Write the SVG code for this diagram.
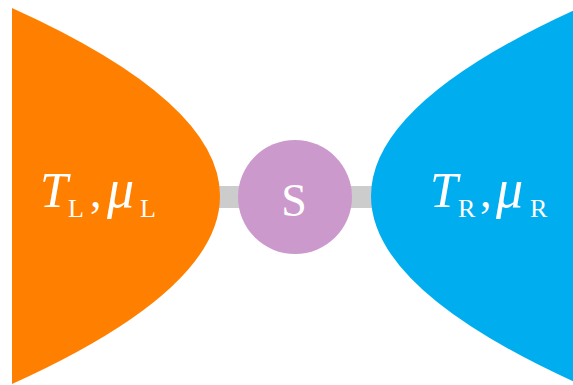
<svg xmlns="http://www.w3.org/2000/svg" width="573" height="385" viewBox="0 0 573 385">
<style>
.t{font-family:"Liberation Serif","Times New Roman",serif;fill:#fff;font-size:46px}
.i{font-style:italic;font-size:50px}
.u{font-style:italic;font-size:54px}
.s{font-size:26px}
</style>
<rect width="573" height="385" fill="#fff"/>
<g id="connectors">
<rect x="200" y="186" width="190" height="22" fill="#cccccc"/>
</g>
<g id="left">
<path d="M12,8 Q428,196 12,384 Z" fill="#ff8000"/>
<text class="t" y="207"><tspan class="i" x="40">T</tspan><tspan class="s" x="68" y="217">L</tspan><tspan x="90" y="207">,</tspan><tspan class="u" x="107">μ</tspan><tspan class="s" x="140" y="217">L</tspan></text>
</g>
<g id="right">
<path d="M579,8 Q163,196 579,384 Z" fill="#00aeef"/>
<text class="t" y="207"><tspan class="i" x="430">T</tspan><tspan class="s" x="458" y="217">R</tspan><tspan x="480" y="207">,</tspan><tspan class="u" x="496">μ</tspan><tspan class="s" x="530" y="217">R</tspan></text>
</g>
<g id="system">
<circle cx="295" cy="197" r="57" fill="#cc99cc"/>
<text class="t" x="294" y="216" font-size="52" text-anchor="middle">S</text>
</g>
</svg>
